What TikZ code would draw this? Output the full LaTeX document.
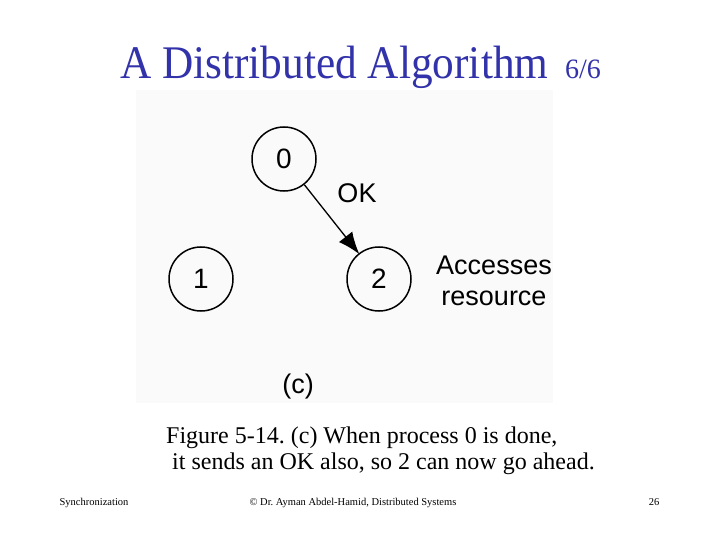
\documentclass[tikz,border=0pt]{standalone}
\usepackage{fontspec}
\setmainfont{Liberation Serif}
\newfontfamily\helv{Liberation Sans}
\usetikzlibrary{arrows.meta}
\frenchspacing
\definecolor{titleblue}{RGB}{50,50,170}
\definecolor{figbg}{RGB}{250,250,250}
\tikzset{
  proc/.style={draw=black, line width=1.5pt, circle, minimum size=64pt, inner sep=0pt, font=\helv\fontsize{28}{30}\selectfont},
  figtext/.style={font=\helv\fontsize{27}{31}\selectfont, inner sep=0pt},
  captext/.style={font=\fontsize{24}{27}\selectfont, inner sep=0pt, anchor=base west},
  foot/.style={font=\fontsize{10.5}{12}\selectfont, inner sep=0pt, anchor=base},
  okarrow/.style={line width=1.3pt, shorten >=-1pt, -{Latex[length=22pt,width=17pt]}}
}
\begin{document}
\begin{tikzpicture}[x=1pt,y=-1pt]
\useasboundingbox (0,0) rectangle (720,540);
\fill[white] (0,0) rectangle (720,540);
% figure background
\fill[figbg] (136,90) rectangle (553,403);
% title
\node[inner sep=0pt, anchor=base west, text=titleblue] (title) at (120,79) {\scalebox{1}[1.08]{\fontsize{43.3}{48}\selectfont A Distributed Algorithm}};
\node[inner sep=0pt, anchor=base west, text=titleblue] (part) at (565,79) {\fontsize{28}{30}\selectfont 6/6};
% processes
\node[proc] (n0) at (284,159) {0};
\node[proc] (n1) at (201,279) {1};
\node[proc] (n2) at (379,279) {2};
\draw[okarrow] (n0) -- (n2);
\node[figtext] (ok) at (357,193) {OK};
\node[figtext, align=center] (acc) at (494,281) {Accesses\\resource};
\node[figtext] (lab) at (298,387) {(c)};
% caption
\node[captext] (cap1) at (166,443) {Figure 5-14. (c) When process 0 is done,};
\node[captext] (cap2) at (172,469.5) {it sends an OK also, so 2 can now go ahead.};
% footer
\node[foot] (f1) at (94,505) {Synchronization};
\node[foot] (f2) at (353,505) {© Dr. Ayman Abdel-Hamid, Distributed Systems};
\node[foot] (f3) at (654,505) {26};
\end{tikzpicture}
\end{document}
